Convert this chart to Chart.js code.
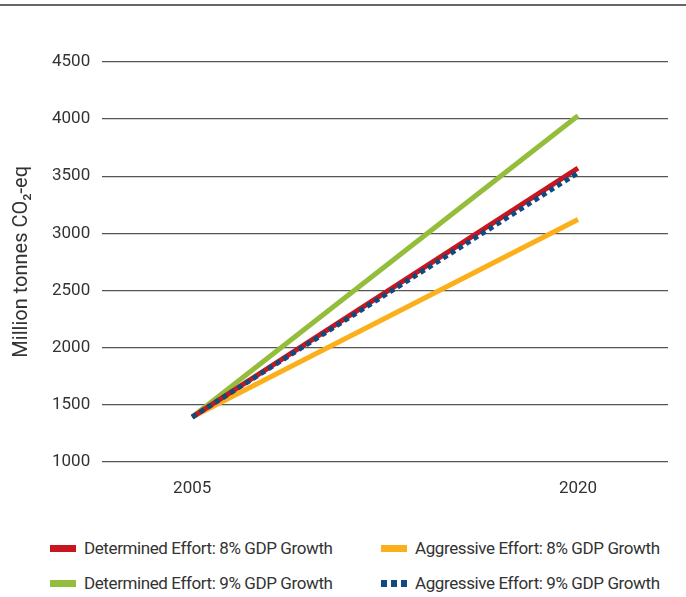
<!DOCTYPE html>
<html>
<head>
<meta charset="utf-8">
<script src="https://cdn.jsdelivr.net/npm/chart.js@4.4.0/dist/chart.umd.min.js"></script>
<style>
  body { margin: 0; background: #fff; font-family: Roboto, "Liberation Sans", sans-serif; }
  #wrap { position: relative; width: 686px; height: 597px; }
  #topline { position: absolute; left: 0; top: 4px; width: 686px; border-top: 2px solid #666; }
  #chartBox { position: absolute; left: 0; top: 0; width: 686px; height: 508px; }
  #legend { position: absolute; left: 0; top: 540px; width: 686px; height: 57px; }
  .item { position: absolute; display: flex; align-items: center; font-size: 17px; color: #333; white-space: nowrap; letter-spacing: -0.4px; }
  .sw { width: 26px; height: 7px; margin-right: 8px; }
</style>
</head>
<body>
<div id="wrap">
  <div id="topline"></div>
  <div id="chartBox"><canvas id="lineChart"></canvas></div>
  <div id="legend"></div>
</div>
<script>
// data
var years = [2005, 2020];
var determined8 = [1390, 3570];
var determined9 = [1390, 4030];
var aggressive8 = [1390, 3120];
var aggressive9 = [1390, 3530];
var yTicks = [1000, 1500, 2000, 2500, 3000, 3500, 4000, 4500];

var red = '#c8161e', green = '#93bd3a', orange = '#fbb01b', blue = '#0f4a80';

function pts(vals) {
    return years.map(function(y, i) { return { x: y, y: vals[i] }; });
}

var series = [
    { label: 'Aggressive Effort: 9% GDP Growth', data: pts(aggressive9), color: blue, dash: [5, 4] },
    { label: 'Determined Effort: 8% GDP Growth', data: pts(determined8), color: red },
    { label: 'Aggressive Effort: 8% GDP Growth', data: pts(aggressive8), color: orange },
    { label: 'Determined Effort: 9% GDP Growth', data: pts(determined9), color: green }
];

var font = "Roboto, 'Liberation Sans', sans-serif";

new Chart(document.getElementById('lineChart'), {
    type: 'line',
    data: {
        datasets: series.map(function(s) {
            return {
                label: s.label,
                data: s.data,
                borderColor: s.color,
                backgroundColor: s.color,
                borderWidth: 5,
                borderDash: s.dash || [],
                borderCapStyle: 'butt',
                pointRadius: 0,
                tension: 0
            };
        })
    },
    options: {
        responsive: true,
        maintainAspectRatio: false,
        animation: false,
        layout: { padding: { top: 62, right: 18, left: 10, bottom: 0 } },
        plugins: { legend: { display: false }, tooltip: { enabled: false } },
        scales: {
            x: {
                type: 'linear',
                min: 2001.5,
                max: 2023.5,
                afterBuildTicks: function(axis) {
                    axis.ticks = years.map(function(v) { return { value: v }; });
                },
                grid: { display: false },
                border: { display: false },
                ticks: {
                    color: '#333',
                    font: { family: font, size: 17 },
                    padding: 9,
                    callback: function(v) { return String(v); }
                }
            },
            y: {
                min: 1000,
                max: 4500,
                afterBuildTicks: function(axis) {
                    axis.ticks = yTicks.map(function(v) { return { value: v }; });
                },
                grid: { color: '#555', lineWidth: 1.2, drawTicks: false },
                border: { display: false },
                ticks: {
                    color: '#333',
                    font: { family: font, size: 17 },
                    padding: 12,
                    callback: function(v) { return String(v); }
                },
                title: {
                    display: true,
                    text: 'Million tonnes CO\u2082-eq',
                    color: '#333',
                    font: { family: font, size: 20 },
                    padding: { top: 0, bottom: 6 }
                }
            }
        }
    }
});

// html legend, two columns
var legendOrder = [
    { s: series[1], left: 50, top: 8 },
    { s: series[3], left: 50, top: 43 },
    { s: series[2], left: 381, top: 8 },
    { s: series[0], left: 381, top: 43 }
];
var legend = document.getElementById('legend');
legendOrder.forEach(function(o) {
    var item = document.createElement('div');
    item.className = 'item';
    item.style.left = o.left + 'px';
    item.style.top = (o.top - 10) + 'px';
    var sw = document.createElement('span');
    sw.className = 'sw';
    if (o.s.dash) {
        sw.style.background = 'repeating-linear-gradient(90deg,' + o.s.color + ' 0 6px, transparent 6px 10px)';
    } else {
        sw.style.background = o.s.color;
    }
    var txt = document.createElement('span');
    txt.textContent = o.s.label;
    item.appendChild(sw);
    item.appendChild(txt);
    legend.appendChild(item);
});
</script>
</body>
</html>
